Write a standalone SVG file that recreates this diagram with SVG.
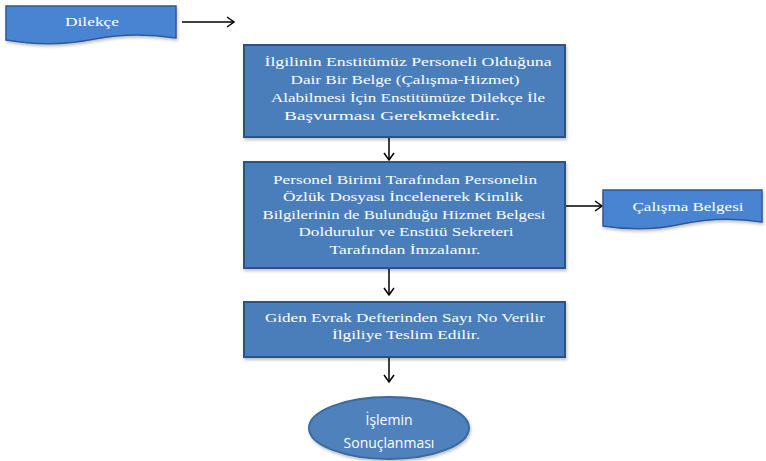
<svg xmlns="http://www.w3.org/2000/svg" width="766" height="461" viewBox="0 0 766 461">
<style>
.box{fill:#4a7ebb;stroke:#2e5283;stroke-width:2}
.doc{fill:#4a84d2;stroke:#2e5a96;stroke-width:1.5}
.ell{fill:#4f81bd;stroke:#3a6aa0;stroke-width:2}
.t{font-family:'Liberation Serif','DejaVu Serif','Noto Serif','Times New Roman',serif;font-size:13.5px;fill:#ffffff;text-anchor:middle}
.s{font-family:'Open Sans',sans-serif;font-size:14px;fill:#ffffff;text-anchor:middle}
.c{stroke:#000;stroke-width:1.5;fill:none}
</style>
<defs>
<marker id="ah" markerUnits="userSpaceOnUse" markerWidth="12" markerHeight="12" refX="9" refY="6" orient="auto">
<path d="M2,1 L9,6 L2,11" fill="none" stroke="#000" stroke-width="1.5"/>
</marker>
<filter id="sh" x="-10%" y="-10%" width="120%" height="130%">
<feDropShadow dx="1" dy="2" stdDeviation="1.5" flood-color="#000" flood-opacity="0.25"/>
</filter>
</defs>
<g id="connectors">
<line class="c" x1="182" y1="22" x2="234" y2="22" marker-end="url(#ah)"/>
<line class="c" x1="389" y1="138" x2="389" y2="160" marker-end="url(#ah)"/>
<line class="c" x1="565" y1="206" x2="602" y2="206" marker-end="url(#ah)"/>
<line class="c" x1="389" y1="269" x2="389" y2="295" marker-end="url(#ah)"/>
<line class="c" x1="389" y1="358" x2="389" y2="382" marker-end="url(#ah)"/>
</g>
<g id="dilekce">
<path class="doc" filter="url(#sh)" d="M6,6 H176 V38 C150,34 120,34 95,39 C65,45 35,45 6,40 Z"/>
<text class="t" x="92" y="26" textLength="54" lengthAdjust="spacingAndGlyphs">Dilekçe</text>
</g>
<g id="box1">
<rect class="box" filter="url(#sh)" x="244" y="45" width="321" height="92"/>
<text class="t" x="408" y="66" textLength="287" lengthAdjust="spacingAndGlyphs">İlgilinin Enstitümüz Personeli Olduğuna</text>
<text class="t" x="405" y="84" textLength="229" lengthAdjust="spacingAndGlyphs">Dair Bir Belge (Çalışma-Hizmet)</text>
<text class="t" x="408" y="102" textLength="274" lengthAdjust="spacingAndGlyphs">Alabilmesi İçin Enstitümüze Dilekçe İle</text>
<text class="t" x="392" y="120" textLength="216" lengthAdjust="spacingAndGlyphs">Başvurması Gerekmektedir.</text>
</g>
<g id="box2">
<rect class="box" filter="url(#sh)" x="244" y="162" width="321" height="106"/>
<text class="t" x="405" y="184" textLength="264" lengthAdjust="spacingAndGlyphs">Personel Birimi Tarafından Personelin</text>
<text class="t" x="403" y="201" textLength="240" lengthAdjust="spacingAndGlyphs">Özlük Dosyası İncelenerek Kimlik</text>
<text class="t" x="404" y="219" textLength="283" lengthAdjust="spacingAndGlyphs">Bilgilerinin de Bulunduğu Hizmet Belgesi</text>
<text class="t" x="406" y="236" textLength="215" lengthAdjust="spacingAndGlyphs">Doldurulur ve Enstitü Sekreteri</text>
<text class="t" x="405" y="254" textLength="151" lengthAdjust="spacingAndGlyphs">Tarafından İmzalanır.</text>
</g>
<g id="calisma">
<path class="doc" filter="url(#sh)" d="M603,190 H762 V222 C735,218 705,219 682,224 C655,230 628,230 603,226 Z"/>
<text class="t" x="688" y="211" textLength="111" lengthAdjust="spacingAndGlyphs">Çalışma Belgesi</text>
</g>
<g id="box3">
<rect class="box" filter="url(#sh)" x="244" y="302" width="321" height="55"/>
<text class="t" x="405" y="322" textLength="280" lengthAdjust="spacingAndGlyphs">Giden Evrak Defterinden Sayı No Verilir</text>
<text class="t" x="406" y="339" textLength="148" lengthAdjust="spacingAndGlyphs">İlgiliye Teslim Edilir.</text>
</g>
<g id="sonuc">
<ellipse class="ell" filter="url(#sh)" cx="389" cy="428" rx="80" ry="31"/>
<text class="s" x="389" y="425">İşlemin</text>
<text class="s" x="389" y="448">Sonuçlanması</text>
</g>
</svg>
